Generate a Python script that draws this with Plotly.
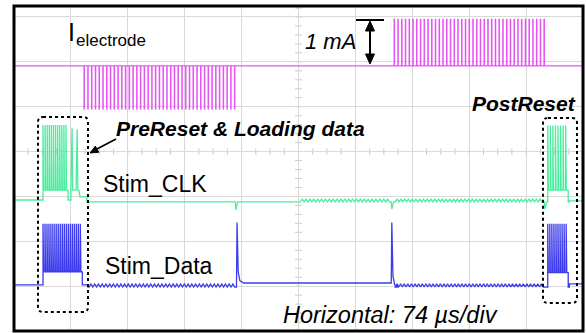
import math
import plotly.graph_objects as go

# ---------------- data (units = divisions) ----------------
# horizontal: 10 div, 74 us/div ; vertical: divisions from the bottom graticule line
X_DIVS = 10
Y_TOP = 7.245

# I_electrode (magenta)
IEL_BASE_X = [0.0, 10.0]
IEL_BASE_Y = [5.91]
IEL_BURST_X0 = [1.23, 6.68]
IEL_BURST_X1 = [3.94, 9.38]
IEL_BURST_N = [41, 41]
IEL_BURST_PEAK = [4.95, 6.95]

# Stim_CLK (green)
CLK_BASE_X = [0.0, 1.28, 9.76, 10.0]
CLK_BASE_Y = [2.92, 2.88, 2.90]
CLK_BURST_X0 = [0.51, 9.38]
CLK_BURST_X1 = [0.95, 9.74]
CLK_BURST_N = [12, 8]
CLK_BURST_LOW = [3.14, 3.14]
CLK_BURST_HIGH = [4.59, 4.58]
CLK_TAIL_X = [1.02, 1.11]
CLK_TAIL_HIGH = [4.52, 4.50]
CLK_SHOULDER_X = [1.16, 1.28]
CLK_SHOULDER_Y = 2.99
CLK_DIP_X = [3.90, 6.64, 9.33]
CLK_DIP_Y = [2.70, 2.72, 2.72]
CLK_RIPPLE_X0 = [5.03, 6.70]
CLK_RIPPLE_X1 = [6.60, 9.28]
CLK_RIPPLE_N = [23, 39]
CLK_RIPPLE_AMP = [0.06, 0.06]

# Stim_Data (blue)
DATA_BASE_X = [0.0, 1.30, 3.92, 6.64, 9.76, 10.0]
DATA_BASE_Y = [1.03, 0.98, 1.07, 0.98, 1.05]
DATA_BURST_X0 = [0.51, 9.38]
DATA_BURST_X1 = [1.20, 9.74]
DATA_BURST_N = [20, 10]
DATA_BURST_LOW = [1.32, 1.30]
DATA_BURST_HIGH = [2.39, 2.39]
DATA_SPIKE_X = [3.92, 6.64]
DATA_SPIKE_HIGH = [2.42, 2.42]
DATA_RIPPLE_X0 = [1.32, 6.70]
DATA_RIPPLE_X1 = [3.88, 9.30]
DATA_RIPPLE_N = [39, 41]
DATA_RIPPLE_AMP = [0.07, 0.07]

COL_IEL = "rgb(230,84,244)"
COL_CLK = "rgb(72,238,156)"
COL_DATA = "rgb(60,60,236)"

# ---------------- helpers to turn the read values into trace points ----------------
def level(bx, by, x):
    for i in range(len(by)):
        if bx[i] <= x < bx[i + 1]:
            return by[i]
    return by[-1]


def baseline(bx, by, a, b):
    xs, ys = [a], [level(bx, by, a)]
    for bp in bx[1:-1]:
        if a < bp < b:
            xs += [bp, bp]
            ys += [level(bx, by, bp - 1e-9), level(bx, by, bp)]
    xs.append(b)
    ys.append(level(bx, by, b - 1e-9))
    return xs, ys


def pulses(x0, x1, n, low, high, duty):
    step = (x1 - x0) / n
    w = step * duty
    xs, ys = [x0], [low]
    for k in range(n):
        t = x0 + k * step
        xs += [t, t, t + w, t + w]
        ys += [low, high, high, low]
    xs.append(x1)
    ys.append(low)
    return xs, ys


def ripple(x0, x1, n, base, amp):
    step = (x1 - x0) / n
    xs, ys = [], []
    for k in range(n):
        t = x0 + k * step
        xs += [t, t + step * 0.5]
        ys += [base, base + amp]
    xs.append(x1)
    ys.append(base)
    return xs, ys


def build(bx, by, events):
    events = sorted(events, key=lambda e: e[0][0])
    xs, ys = [], []
    cur = bx[0]
    for ex, ey in events:
        px, py = baseline(bx, by, cur, ex[0])
        xs += px + ex
        ys += py + ey
        cur = ex[-1]
    px, py = baseline(bx, by, cur, bx[-1])
    xs += px
    ys += py
    return xs, ys


# magenta
ev = []
for i in range(len(IEL_BURST_X0)):
    b = level(IEL_BASE_X, IEL_BASE_Y, IEL_BURST_X0[i])
    ev.append(pulses(IEL_BURST_X0[i], IEL_BURST_X1[i], IEL_BURST_N[i], b, IEL_BURST_PEAK[i], 0.12))
iel_x, iel_y = build(IEL_BASE_X, IEL_BASE_Y, ev)

# green
ev = []
for i in range(len(CLK_BURST_X0)):
    ev.append(pulses(CLK_BURST_X0[i], CLK_BURST_X1[i], CLK_BURST_N[i], CLK_BURST_LOW[i], CLK_BURST_HIGH[i], 0.25))
tx, ty = [], []
for i, x in enumerate(CLK_TAIL_X):
    tx += [x - 0.02, x, x + 0.012, x + 0.03]
    ty += [CLK_BURST_LOW[0], CLK_TAIL_HIGH[i], CLK_BURST_LOW[0], CLK_BURST_LOW[0]]
tx += [CLK_SHOULDER_X[0], CLK_SHOULDER_X[1]]
ty += [CLK_SHOULDER_Y, CLK_SHOULDER_Y]
ev.append((tx, ty))
for i, x in enumerate(CLK_DIP_X):
    b = level(CLK_BASE_X, CLK_BASE_Y, x)
    ev.append(([x - 0.01, x, x + 0.03], [b, CLK_DIP_Y[i], b]))
for i in range(len(CLK_RIPPLE_X0)):
    b = level(CLK_BASE_X, CLK_BASE_Y, CLK_RIPPLE_X0[i])
    ev.append(ripple(CLK_RIPPLE_X0[i], CLK_RIPPLE_X1[i], CLK_RIPPLE_N[i], b, CLK_RIPPLE_AMP[i]))
clk_x, clk_y = build(CLK_BASE_X, CLK_BASE_Y, ev)

# blue
ev = []
for i in range(len(DATA_BURST_X0)):
    ev.append(pulses(DATA_BURST_X0[i], DATA_BURST_X1[i], DATA_BURST_N[i], DATA_BURST_LOW[i], DATA_BURST_HIGH[i], 0.3))
for i, x in enumerate(DATA_SPIKE_X):
    b0 = level(DATA_BASE_X, DATA_BASE_Y, x - 0.05)
    b1 = level(DATA_BASE_X, DATA_BASE_Y, x + 0.05)
    ev.append(([x - 0.01, x, x + 0.02, x + 0.05, x + 0.12],
               [b0, DATA_SPIKE_HIGH[i], b1 + 0.25, b1 + 0.05, b1]))
for i in range(len(DATA_RIPPLE_X0)):
    b = level(DATA_BASE_X, DATA_BASE_Y, DATA_RIPPLE_X0[i])
    ev.append(ripple(DATA_RIPPLE_X0[i], DATA_RIPPLE_X1[i], DATA_RIPPLE_N[i], b, DATA_RIPPLE_AMP[i]))
data_x, data_y = build(DATA_BASE_X, DATA_BASE_Y, ev)

# ---------------- figure ----------------
W, H = 586, 333
ML, MR, MT, MB = 14, 3, 6, 2
PW, PH = W - ML - MR, H - MT - MB


def px2x(p):
    return (p - ML) / PW * X_DIVS


def px2y(p):
    return (H - MB - p) / PH * Y_TOP


fig = go.Figure()
for xs, ys, col, w in [(iel_x, iel_y, COL_IEL, 1.1), (clk_x, clk_y, COL_CLK, 1.3), (data_x, data_y, COL_DATA, 1.3)]:
    fig.add_trace(go.Scatter(x=xs, y=ys, mode="lines", line=dict(color=col, width=w),
                             hoverinfo="skip", showlegend=False))

shapes = []
# minor ticks on the centre graticule lines
tick_col = "#c9c9c9"
for k in range(41):
    x = k * 0.25
    shapes.append(dict(type="line", xref="x", yref="y", x0=x, x1=x, y0=4 - 0.07, y1=4 + 0.07,
                       line=dict(color=tick_col, width=1), layer="below"))
for k in range(int(Y_TOP / 0.2) + 1):
    y = k * 0.2
    shapes.append(dict(type="line", xref="x", yref="y", x0=5 - 0.06, x1=5 + 0.06, y0=y, y1=y,
                       line=dict(color=tick_col, width=1), layer="below"))


def rounded_box(x0p, x1p, y0p, y1p, r=5):
    x0, x1 = px2x(x0p), px2x(x1p)
    yt, yb = px2y(y0p), px2y(y1p)
    rx, ry = px2x(ML + r) - px2x(ML), px2y(H - MB - r) - px2y(H - MB)
    p = (f"M{x0 + rx},{yt} L{x1 - rx},{yt} Q{x1},{yt} {x1},{yt - ry} "
         f"L{x1},{yb + ry} Q{x1},{yb} {x1 - rx},{yb} L{x0 + rx},{yb} "
         f"Q{x0},{yb} {x0},{yb + ry} L{x0},{yt - ry} Q{x0},{yt} {x0 + rx},{yt} Z")
    return dict(type="path", xref="x", yref="y", path=p, line=dict(color="black", width=2, dash="dot"))


def line_px(x0p, y0p, x1p, y1p, w=2):
    return dict(type="line", xref="x", yref="y", x0=px2x(x0p), x1=px2x(x1p), y0=px2y(y0p), y1=px2y(y1p),
                line=dict(color="black", width=w))


def head_px(tipx, tipy, fromx, fromy, length=9, half=4):
    dx, dy = tipx - fromx, tipy - fromy
    n = math.hypot(dx, dy)
    ux, uy = dx / n, dy / n
    bx, by = tipx - ux * length, tipy - uy * length
    pts = [(tipx, tipy), (bx - uy * half, by + ux * half), (bx + uy * half, by - ux * half)]
    p = "M" + " L".join(f"{px2x(a)},{px2y(b)}" for a, b in pts) + " Z"
    return dict(type="path", xref="x", yref="y", path=p, fillcolor="black", line=dict(color="black", width=1))


shapes.append(rounded_box(38, 88, 117, 312))
shapes.append(rounded_box(543, 577, 118, 303))
# 1 mA reference bar and double arrow
shapes.append(line_px(356, 20, 384, 20))
shapes.append(line_px(370, 26, 370, 58))
shapes.append(head_px(370, 21, 370, 40, 10, 4.5))
shapes.append(head_px(370, 64, 370, 40, 10, 4.5))
# pointer to the PreReset box
shapes.append(line_px(116, 139, 95, 150, 1.6))
shapes.append(head_px(90, 153, 116, 139, 8, 3.5))
# frame
shapes.append(dict(type="rect", xref="paper", yref="paper", x0=0, x1=1, y0=0, y1=1,
                   line=dict(color="black", width=3)))

FONT = "Liberation Sans, Arial, sans-serif"
ann = []


def text(t, xp, yp, size, style="", anchor="left"):
    f = dict(family=FONT, size=size, color="black")
    if "b" in style:
        f["weight"] = "bold"
    if "i" in style:
        f["style"] = "italic"
    ann.append(dict(text=t, x=px2x(xp), y=px2y(yp), xref="x", yref="y", xanchor=anchor, yanchor="middle",
                    showarrow=False, font=f))


text("I", 77, 32, 25, anchor="right")
text("electrode", 74, 40, 17)
text("1 mA", 303, 41, 22, "i")
text("PostReset", 470, 103, 21, "bi")
text("PreReset &amp; Loading data", 114, 128, 21, "bi")
text("Stim_CLK", 101, 184, 23)
text("Stim_Data", 103, 266, 23)
text("Horizontal: 74 µs/div", 281, 315, 23.5, "i")

fig.update_layout(
    width=W, height=H, margin=dict(l=ML, r=MR, t=MT, b=MB),
    paper_bgcolor="white", plot_bgcolor="white",
    xaxis=dict(range=[0, X_DIVS], dtick=1, showgrid=True, gridcolor="#d9d9d9", gridwidth=1,
               zeroline=False, showticklabels=False, ticks="", fixedrange=True),
    yaxis=dict(range=[0, Y_TOP], dtick=1, showgrid=True, gridcolor="#d9d9d9", gridwidth=1,
               zeroline=False, showticklabels=False, ticks="", fixedrange=True),
    shapes=shapes, annotations=ann, showlegend=False,
)
fig.write_html("out.html", config={"displayModeBar": False})
